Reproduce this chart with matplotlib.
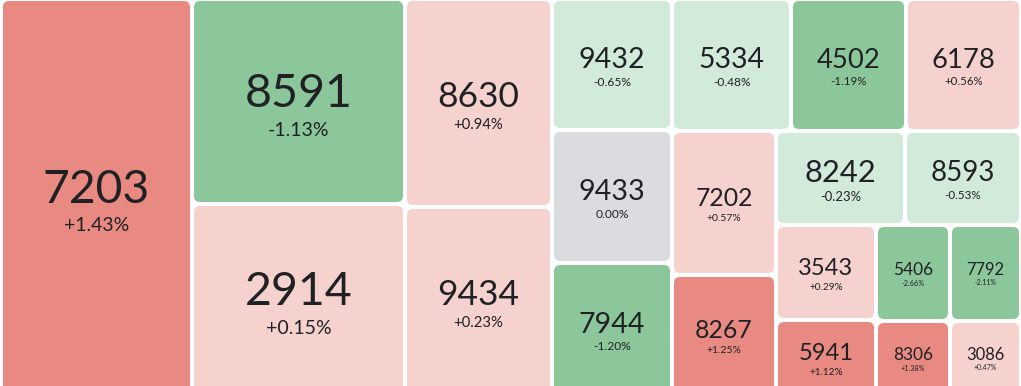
import matplotlib.pyplot as plt
from matplotlib.patches import FancyBboxPatch

# stock codes, tile weights (size) and daily change in %
codes = ["7203", "8591", "2914", "8630", "9434", "9432", "9433", "7944",
         "5334", "4502", "6178", "7202", "8267", "8242", "8593", "3543",
         "5941", "5406", "7792", "8306", "3086"]
weights = [75636, 43665, 40683, 30576, 27636, 15720, 15960, 15840,
           15708, 15180, 15180, 14976, 12480, 12126, 10904, 9500,
           7500, 7104, 6816, 5476, 5254]
changes = [1.43, -1.13, 0.15, 0.94, 0.23, -0.65, 0.00, -1.20,
           -0.48, -1.19, 0.56, 0.57, 1.25, -0.23, -0.53, 0.29,
           1.12, -2.66, -2.11, 1.38, 0.47]


def worst(row, side):
    s = sum(row)
    return max(max(side * side * r / (s * s), s * s / (side * side * r)) for r in row)


def squarify(vals, x, y, w, h):
    # squarified treemap layout, returns (x, y, w, h) per value
    total = sum(vals)
    vals = [v * w * h / total for v in vals]
    rects = []
    while vals:
        side = min(w, h)
        row = [vals.pop(0)]
        while vals and worst(row + [vals[0]], side) <= worst(row, side):
            row.append(vals.pop(0))
        s = sum(row)
        if w >= h:
            t = s / h
            yy = y
            for r in row:
                rects.append((x, yy, t, r / t))
                yy += r / t
            x += t
            w -= t
        else:
            t = s / w
            xx = x
            for r in row:
                rects.append((xx, y, r / t, t))
                xx += r / t
            y += t
            h -= t
    return rects


def tile_color(c):
    if c >= 1:
        return "#E88A82"
    if c > 0:
        return "#F6D2CF"
    if c == 0:
        return "#DADCE0"
    if c > -1:
        return "#D2EADA"
    return "#8BC79A"


plt.rcParams['font.family'] = ['Lato', 'DejaVu Sans']

fig = plt.figure(figsize=(10.21, 3.86), dpi=100)
ax = fig.add_axes([0, 0, 1, 1])
ax.set_xlim(0, 1021)
ax.set_ylim(386, 0)
ax.axis("off")

gap = 2
for code, ch, (x, y, w, h) in zip(codes, changes, squarify(weights, 1, -1, 1020, 396)):
    ax.add_patch(FancyBboxPatch((x + gap, y + gap), w - 2 * gap, h - 2 * gap,
                                boxstyle="round,pad=0,rounding_size=6",
                                fc=tile_color(ch), ec="none"))
    cx = x + w / 2
    cy = y + h / 2
    fs = min(0.178 * (w - 2 * gap), 33.5)
    pfs = 0.42 * fs
    ax.text(cx, cy + 0.17 * fs, code, fontsize=fs, color="#202124",
            ha="center", va="baseline")
    label = "%.2f%%" % ch if ch <= 0 else "+%.2f%%" % ch
    ax.text(cx, cy + 0.82 * fs + 0.5 * pfs, label, fontsize=pfs, color="#202124",
            ha="center", va="baseline")

fig.savefig("out.png", dpi=100)
